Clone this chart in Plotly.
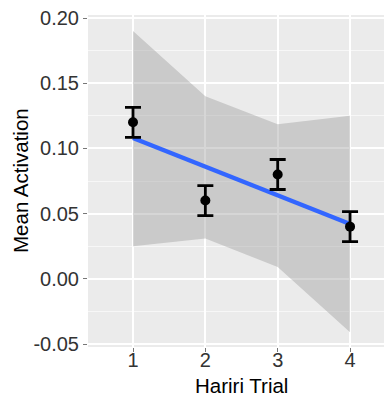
import plotly.graph_objects as go

trials = [1, 2, 3, 4]
mean_activation = [0.120, 0.060, 0.080, 0.040]
error = [0.0115, 0.0115, 0.0115, 0.0115]
fit_line = [0.108, 0.086, 0.064, 0.042]
ribbon_upper = [0.190, 0.140, 0.1185, 0.125]
ribbon_lower = [0.025, 0.031, 0.009, -0.041]

y_tick_vals = [-0.05, 0.00, 0.05, 0.10, 0.15, 0.20]
y_tick_text = ["-0.05", "0.00", "0.05", "0.10", "0.15", "0.20"]
y_minor_vals = [-0.025, 0.025, 0.075, 0.125, 0.175]
x_tick_vals = [1, 2, 3, 4]
x_tick_text = ["1", "2", "3", "4"]
x_title = "Hariri Trial"
y_title = "Mean Activation"

fig = go.Figure()

fig.add_trace(go.Scatter(
    x=trials + trials[::-1],
    y=ribbon_upper + ribbon_lower[::-1],
    fill="toself", mode="lines",
    line=dict(width=0, color="rgba(0,0,0,0)"),
    fillcolor="rgba(153,153,153,0.4)",
    hoverinfo="skip", showlegend=False))

fig.add_trace(go.Scatter(
    x=trials, y=fit_line, mode="lines",
    line=dict(color="#3366FF", width=4.5),
    showlegend=False))

fig.add_trace(go.Scatter(
    x=trials, y=mean_activation, mode="markers",
    marker=dict(color="black", size=10),
    error_y=dict(type="data", array=error, visible=True,
                 color="black", thickness=2.8, width=8),
    showlegend=False))

fam = "Liberation Sans, Arial, sans-serif"
tick_font = dict(family=fam, size=20, color="#333333")
title_font = dict(family=fam, size=20.5, color="black")

# The page body has an 8px default margin, so the figure is sized to fit.
fig.update_layout(
    width=384, height=388,
    margin=dict(l=80, r=0, t=7, b=49),
    paper_bgcolor="white",
    plot_bgcolor="#EBEBEB",
    font=tick_font,
    xaxis=dict(
        range=[0.378, 4.58],
        tickvals=x_tick_vals, ticktext=x_tick_text,
        showgrid=True, gridcolor="white", gridwidth=1.5,
        zeroline=False, showline=False,
        ticks="outside", ticklen=4, tickwidth=1, tickcolor="#777777",
        tickfont=tick_font, automargin=False, ticklabelstandoff=-9,
    ),
    yaxis=dict(
        range=[-0.0523, 0.2023],
        tickvals=y_tick_vals, ticktext=y_tick_text,
        showgrid=True, gridcolor="white", gridwidth=1.5,
        minor=dict(tickvals=y_minor_vals, showgrid=True, gridcolor="#F7F7F7", gridwidth=0.8, ticks=""),
        zeroline=False, showline=False,
        ticks="outside", ticklen=4, tickwidth=1, tickcolor="#777777",
        tickfont=tick_font, automargin=False, ticklabeloverflow="allow",
    ),
    annotations=[
        dict(text=x_title, xref="paper", yref="paper", x=0.505, y=-0.1145,
             xanchor="center", yanchor="middle", showarrow=False, font=title_font),
        dict(text=y_title, xref="paper", yref="paper", x=-0.2237, y=0.503,
             xanchor="center", yanchor="middle", textangle=-90,
             showarrow=False, font=title_font),
    ],
)

fig.write_html("out.html")
